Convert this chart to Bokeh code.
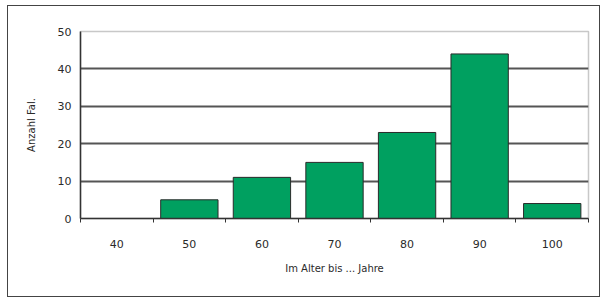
from bokeh.plotting import figure
from bokeh.models import ColumnDataSource, Range1d, FixedTicker
from bokeh.embed import file_html
from bokeh.resources import INLINE

categories = ["40", "50", "60", "70", "80", "90", "100"]
counts = [0, 5, 11, 15, 23, 44, 4]
y_ticks = [0, 10, 20, 30, 40, 50]
x_label = "Im Alter bis ... Jahre"
y_label = "Anzahl Fal."

idx = list(range(len(categories)))
src = ColumnDataSource(dict(x=idx, top=counts))

p = figure(width=593, height=292, output_backend="svg", toolbar_location=None,
           x_range=Range1d(-0.5, len(categories) - 0.5), y_range=Range1d(0, 50),
           min_border_left=72, min_border_right=13, min_border_top=25, min_border_bottom=80)
p.styles = {"border": "1.5px solid #444444", "box-sizing": "border-box",
            "margin-left": "7px", "margin-top": "5px"}
p.outline_line_color = "#c8c8c8"
p.outline_line_width = 1.5

p.vbar(x="x", top="top", width=0.79, source=src, fill_color="#00A060",
       line_color="#2a2a2a", line_width=1)

# axes
p.xaxis.ticker = FixedTicker(ticks=idx, minor_ticks=[i - 0.5 for i in idx] + [len(idx) - 0.5])
p.xaxis.major_label_overrides = {i: c for i, c in zip(idx, categories)}
p.xaxis.minor_tick_line_color = "#333333"
p.xaxis.minor_tick_out = 4
p.xaxis.minor_tick_in = 0
p.xaxis.major_label_standoff = 15
p.xaxis.axis_label = x_label
p.xaxis.axis_label_standoff = 12
p.yaxis.ticker = FixedTicker(ticks=y_ticks)
p.yaxis.minor_tick_line_color = None
p.yaxis.major_tick_out = 4
p.yaxis.major_tick_in = 0
p.yaxis.major_label_standoff = 5
p.yaxis.axis_label = y_label
p.yaxis.axis_label_standoff = 18

for ax in (p.xaxis, p.yaxis):
    ax.axis_line_color = "#333333"
    ax.axis_line_width = 1.5
    ax.major_tick_line_color = "#333333" if ax is p.yaxis else None
    ax.major_label_text_font = "DejaVu Sans"
    ax.major_label_text_font_size = "11px"
    ax.major_label_text_color = "#2a2a2a"
    ax.axis_label_text_font = "DejaVu Sans"
    ax.axis_label_text_font_size = "10px"
    ax.axis_label_text_font_style = "normal"
    ax.axis_label_text_color = "#2a2a2a"

p.xgrid.grid_line_color = None
p.ygrid.ticker = FixedTicker(ticks=[10, 20, 30, 40])
p.ygrid.grid_line_color = "#555555"
p.ygrid.grid_line_width = 1.8

open("out.html", "w").write(file_html(p, INLINE))
